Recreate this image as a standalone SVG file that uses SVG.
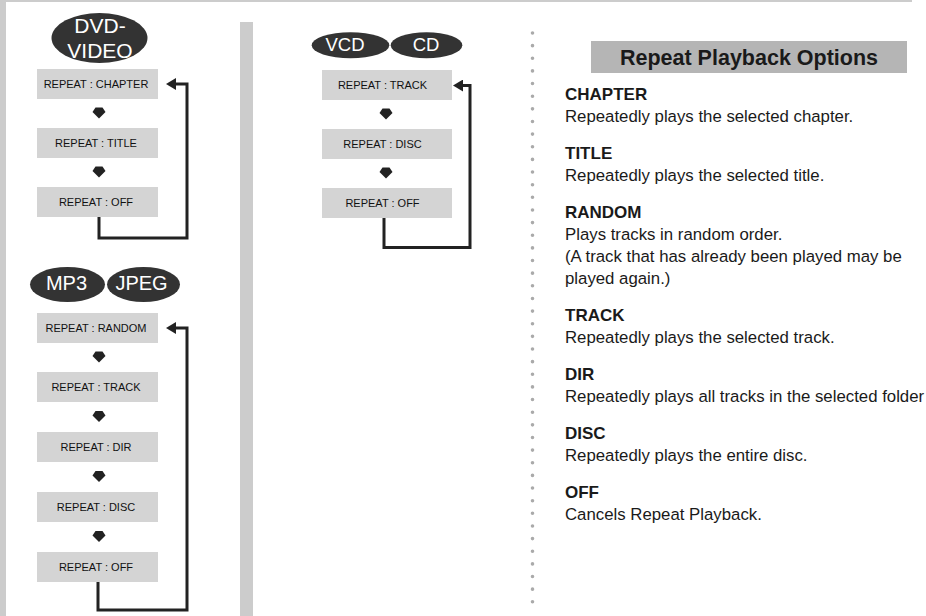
<svg xmlns="http://www.w3.org/2000/svg" width="926" height="616" viewBox="0 0 926 616">
<style>
.bg{fill:#cccccc}
.box{fill:#d4d4d4}
.lbl{font-family:"Liberation Sans",Arial,sans-serif;font-size:11px;fill:#111;text-anchor:middle}
.pill{fill:#333333}
.ptxt{font-family:"Liberation Sans",Arial,sans-serif;fill:#fff;text-anchor:middle}
.conn{fill:none;stroke:#222;stroke-width:3}
.dn{fill:#222}
.t{font-family:"Liberation Sans",Arial,sans-serif;fill:#1a1a1a}
.h{font-weight:bold;font-size:17px}
.b{font-size:16.8px}
</style>
<defs>
<marker id="ah" markerUnits="userSpaceOnUse" viewBox="0 0 10 12" markerWidth="10" markerHeight="12" refX="0" refY="6" orient="auto">
<path d="M0,0 L10,6 L0,12 Z" fill="#222"/>
</marker>
<path id="dn" d="M-3.5,0 L3.5,0 L6.5,4.5 L0,11 L-6.5,4.5 Z"/>
</defs>
<rect x="0" y="0" width="926" height="616" fill="#fff"/>
<rect class="bg" x="0" y="0" width="6" height="616"/>
<rect class="bg" x="6" y="0" width="906" height="2"/>
<rect class="bg" x="240" y="22" width="13" height="594"/>
<line x1="532.5" y1="33" x2="532.5" y2="603" stroke="#aaaaaa" stroke-width="3.6" stroke-linecap="round" stroke-dasharray="0 12.64"/>

<g id="dvd-badge">
<ellipse class="pill" cx="99.5" cy="38" rx="48" ry="25"/>
<text class="ptxt" x="100" y="33" font-size="21">DVD-</text>
<text class="ptxt" x="100" y="57.5" font-size="21">VIDEO</text>
</g>
<g id="dvd-chapter"><rect class="box" x="37" y="69" width="121" height="30"/><text class="lbl" x="96" y="88">REPEAT : CHAPTER</text></g>
<g id="dvd-title"><rect class="box" x="37" y="128" width="121" height="30"/><text class="lbl" x="96" y="147">REPEAT : TITLE</text></g>
<g id="dvd-off"><rect class="box" x="37" y="187" width="121" height="30"/><text class="lbl" x="96" y="206">REPEAT : OFF</text></g>

<g id="mp3-badge">
<ellipse class="pill" cx="67.5" cy="284.5" rx="37.5" ry="17.5"/>
<text class="ptxt" x="66.5" y="290" font-size="20">MP3</text>
</g>
<g id="jpeg-badge">
<ellipse class="pill" cx="143.5" cy="284.5" rx="36.5" ry="17.5"/>
<text class="ptxt" x="141.5" y="290" font-size="20">JPEG</text>
</g>
<g id="mp3-random"><rect class="box" x="37" y="313" width="121" height="30"/><text class="lbl" x="96" y="332">REPEAT : RANDOM</text></g>
<g id="mp3-track"><rect class="box" x="37" y="372" width="121" height="30"/><text class="lbl" x="96" y="391">REPEAT : TRACK</text></g>
<g id="mp3-dir"><rect class="box" x="37" y="432" width="121" height="30"/><text class="lbl" x="96" y="451">REPEAT : DIR</text></g>
<g id="mp3-disc"><rect class="box" x="37" y="492" width="121" height="30"/><text class="lbl" x="96" y="511">REPEAT : DISC</text></g>
<g id="mp3-off"><rect class="box" x="37" y="552" width="121" height="30"/><text class="lbl" x="96" y="571">REPEAT : OFF</text></g>

<g id="vcd-badge">
<ellipse class="pill" cx="350.5" cy="45.3" rx="38.8" ry="13"/>
<text class="ptxt" x="345" y="51" font-size="18.5">VCD</text>
</g>
<g id="cd-badge">
<ellipse class="pill" cx="426.5" cy="45.3" rx="35.8" ry="13"/>
<text class="ptxt" x="426" y="51" font-size="18.5">CD</text>
</g>
<g id="vcd-track"><rect class="box" x="322" y="70" width="130" height="30"/><text class="lbl" x="382.5" y="89">REPEAT : TRACK</text></g>
<g id="vcd-disc"><rect class="box" x="322" y="129" width="130" height="30"/><text class="lbl" x="382.5" y="148">REPEAT : DISC</text></g>
<g id="vcd-off"><rect class="box" x="322" y="188" width="130" height="30"/><text class="lbl" x="382.5" y="207">REPEAT : OFF</text></g>

<g id="connectors">
<use href="#dn" class="dn" x="99" y="107.5"/>
<use href="#dn" class="dn" x="99" y="166.5"/>
<path class="conn" d="M99,217 V238 H187 V84 H176" marker-end="url(#ah)"/>
<use href="#dn" class="dn" x="99" y="351.5"/>
<use href="#dn" class="dn" x="99" y="411"/>
<use href="#dn" class="dn" x="99" y="471"/>
<use href="#dn" class="dn" x="99" y="531"/>
<path class="conn" d="M98,582 V610 H187 V328 H176" marker-end="url(#ah)"/>
<use href="#dn" class="dn" x="386" y="108.5"/>
<use href="#dn" class="dn" x="386" y="167.5"/>
<path class="conn" d="M384,218 V247.5 H470 V85.5 H463" marker-end="url(#ah)"/>
</g>

<g id="options">
<rect x="591" y="41" width="316" height="32" fill="#b5b5b5"/>
<text class="t" x="749" y="65" font-size="21.5" font-weight="bold" text-anchor="middle">Repeat Playback Options</text>
<text class="t h" x="565" y="100">CHAPTER</text>
<text class="t b" x="565" y="122">Repeatedly plays the selected chapter.</text>
<text class="t h" x="565" y="159">TITLE</text>
<text class="t b" x="565" y="181">Repeatedly plays the selected title.</text>
<text class="t h" x="565" y="218">RANDOM</text>
<text class="t b" x="565" y="240">Plays tracks in random order.</text>
<text class="t b" x="565" y="262">(A track that has already been played may be</text>
<text class="t b" x="565" y="284">played again.)</text>
<text class="t h" x="565" y="321">TRACK</text>
<text class="t b" x="565" y="343">Repeatedly plays the selected track.</text>
<text class="t h" x="565" y="380">DIR</text>
<text class="t b" x="565" y="402">Repeatedly plays all tracks in the selected folder</text>
<text class="t h" x="565" y="439">DISC</text>
<text class="t b" x="565" y="461">Repeatedly plays the entire disc.</text>
<text class="t h" x="565" y="498">OFF</text>
<text class="t b" x="565" y="520">Cancels Repeat Playback.</text>
</g>
</svg>
